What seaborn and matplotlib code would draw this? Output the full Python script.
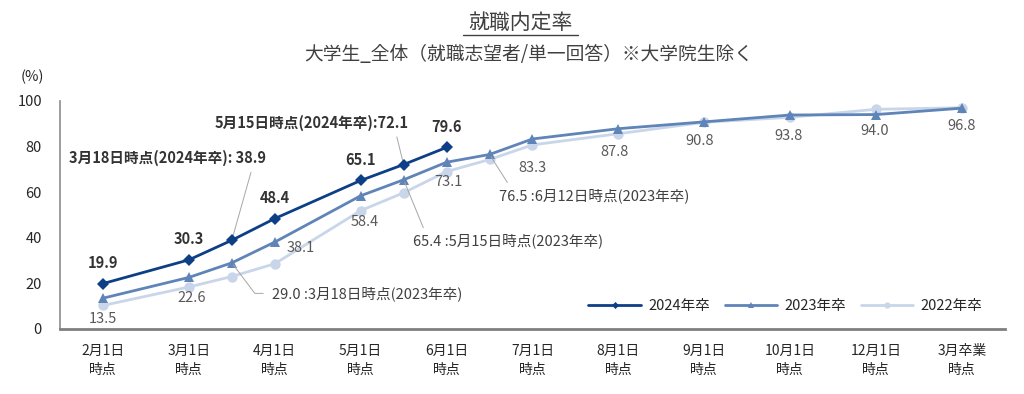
import pandas as pd
import matplotlib.pyplot as plt
import numpy as np
import seaborn as sns
from matplotlib.lines import Line2D

# axis categories (main checkpoints) and every survey date that has a value
tick_dates = ['2月1日', '3月1日', '4月1日', '5月1日', '6月1日', '7月1日',
              '8月1日', '9月1日', '10月1日', '12月1日', '3月卒業']
tick_labels = [d + '\n時点' for d in tick_dates]
survey_dates = ['2月1日', '3月1日', '3月18日', '4月1日', '5月1日', '5月15日', '6月1日',
                '6月12日', '7月1日', '8月1日', '9月1日', '10月1日', '12月1日', '3月卒業']

rate_2024 = [19.9, 30.3, 38.9, 48.4, 65.1, 72.1, 79.6]
rate_2023 = [13.5, 22.6, 29.0, 38.1, 58.4, 65.4, 73.1, 76.5, 83.3, 87.8, 90.8, 93.8, 94.0, 96.8]
rate_2022 = [10.3, 18.4, 23.0, 28.6, 51.9, 59.7, 69.0, 74.3, 80.7, 85.6, 90.6, 92.8, 96.3, 97.0]

# intermediate dates sit halfway between their neighbouring checkpoints
pos = []
last = 0
for d in survey_dates:
    if d in tick_dates:
        last = tick_dates.index(d)
        pos.append(float(last))
    else:
        pos.append(last + 0.5)

frames = []
for year, vals in [('2024年卒', rate_2024), ('2023年卒', rate_2023), ('2022年卒', rate_2022)]:
    frames.append(pd.DataFrame({'pos': pos[:len(vals)], 'date': survey_dates[:len(vals)],
                                'rate': vals, 'year': year}))
df = pd.concat(frames, ignore_index=True)

sns.set_style('white')
plt.rcParams['font.family'] = ['Noto Sans CJK JP', 'DejaVu Sans']

fig = plt.figure(figsize=(10.24, 3.94), dpi=100)
ax = fig.add_axes([0.0586, 0.165, 0.9228, 0.579])

styles = {
    '2022年卒': dict(color='#c9d6ea', marker='o', markersize=7.5, z=2),
    '2023年卒': dict(color='#5f84b8', marker='^', markersize=7.5, z=3),
    '2024年卒': dict(color='#0d3f86', marker='D', markersize=6, z=4),
}
for year in ['2022年卒', '2023年卒', '2024年卒']:
    st = styles[year]
    sns.lineplot(data=df[df['year'] == year], x='pos', y='rate', ax=ax, color=st['color'],
                 marker=st['marker'], markersize=st['markersize'], markeredgewidth=0,
                 linewidth=2, label=year, zorder=st['z'], estimator=None)

ax.set_xlim(-0.5, 10.5)
ax.set_ylim(0, 100)
ax.set_xticks(range(len(tick_labels)))
ax.set_xticklabels(tick_labels, fontsize=10, linespacing=1.45, color='#262626')
ax.set_yticks(range(0, 101, 20))
ax.tick_params(axis='y', labelsize=10.5, labelcolor='#262626', length=0, pad=13)
ax.tick_params(axis='x', length=0, pad=11)
ax.set_xlabel('')
ax.set_ylabel('')
for s in ['top', 'right']:
    ax.spines[s].set_visible(False)
ax.spines['left'].set_color('#8c8c8c')
ax.spines['left'].set_linewidth(1.2)
ax.spines['bottom'].set_color('#7f7f7f')
ax.spines['bottom'].set_linewidth(2)

fs = 10.5

# value labels
lab24 = {'2月1日': 0, '3月1日': 1, '4月1日': 3, '5月1日': 4, '6月1日': 6}
for d, i in lab24.items():
    ax.annotate(f'{rate_2024[i]:.1f}', (pos[i], rate_2024[i]), xytext=(0, 15),
                textcoords='offset points', ha='center', va='center', fontsize=fs,
                fontweight='bold', color='#333333')

lab23_offsets = {0: (0, -15), 1: (2, -15), 3: (19, -4), 4: (3, -19), 6: (1, -14),
                 8: (0, -21), 9: (-3, -17), 10: (-3, -14), 11: (-1, -15), 12: (-1, -12),
                 13: (0, -13)}
for i, off in lab23_offsets.items():
    ax.annotate(f'{rate_2023[i]:.1f}', (pos[i], rate_2023[i]), xytext=off,
                textcoords='offset points', ha='center', va='center', fontsize=fs,
                color='#595959')

leader = dict(arrowstyle='-', color='#a6a6a6', lw=0.7, shrinkA=2, shrinkB=2)
ax.annotate(f'3月18日時点(2024年卒): {rate_2024[2]}', (pos[2], rate_2024[2]),
            xytext=(-46, 59), textcoords='offset points', ha='center', va='center',
            fontsize=fs, color='#333333', fontweight='bold',
            arrowprops=dict(leader, relpos=(0.93, 0)))
ax.annotate(f'5月15日時点(2024年卒):{rate_2024[5]}', (pos[5], rate_2024[5]),
            xytext=(-66, 30), textcoords='offset points', ha='center', va='center',
            fontsize=fs, color='#333333', fontweight='bold',
            arrowprops=dict(leader, relpos=(0.93, 0)))
ax.annotate(f'{rate_2023[2]:.1f} :3月18日時点(2023年卒)', (pos[2], rate_2023[2]),
            xytext=(29, -22), textcoords='offset points', ha='left', va='center',
            fontsize=fs, color='#404040',
            arrowprops=dict(leader, relpos=(0, 0.5), shrinkA=4,
                            connectionstyle='angle,angleA=0,angleB=127,rad=0'))
ax.annotate(f'{rate_2023[5]:.1f} :5月15日時点(2023年卒)', (pos[5], rate_2023[5]),
            xytext=(7, -44), textcoords='offset points', ha='left', va='center',
            fontsize=fs, color='#404040',
            arrowprops=dict(leader, relpos=(0.065, 1)))
ax.annotate(f'{rate_2023[7]:.1f} :6月12日時点(2023年卒)', (pos[7], rate_2023[7]),
            xytext=(6.5, -29.5), textcoords='offset points', ha='left', va='center',
            fontsize=fs, color='#404040',
            arrowprops=dict(leader, relpos=(0.065, 1)))

handles, labels = ax.get_legend_handles_labels()
ax.legend(handles[::-1], labels[::-1], loc='center right', bbox_to_anchor=(0.99, 0.1),
          ncol=3, frameon=False, fontsize=10.5, handlelength=3.6, markerscale=0.6,
          columnspacing=1.0, handletextpad=0.5)

fig.text(0.032, 0.805, '(%)', fontsize=10.5, ha='center', va='center', color='#262626')
fig.text(0.508, 0.942, '就職内定率', fontsize=15, ha='center', va='center', color='#404040')
fig.add_artist(Line2D([0.452, 0.564], [0.912, 0.912], color='#404040', lw=1))
fig.text(0.516, 0.862, '大学生_全体（就職志望者/単一回答）※大学院生除く', fontsize=13.5,
         ha='center', va='center', color='#404040')

fig.savefig('out.png', dpi=100)
